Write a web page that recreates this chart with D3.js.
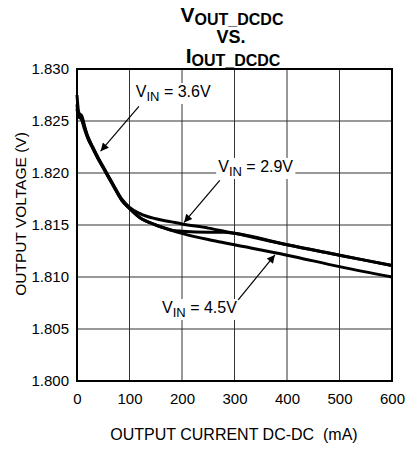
<!DOCTYPE html>
<html>
<head>
<meta charset="utf-8">
<script src="https://cdn.jsdelivr.net/npm/d3@7"></script>
<style>
  body { margin: 0; background: #fff; }
  svg { display: block; font-family: 'Liberation Sans', Arial, sans-serif; }
</style>
</head>
<body>
<svg id="chart" width="406" height="449"></svg>
<script>
'use strict'

// output current (mA) and output voltage (V)
const current = [0, 3, 8, 15, 20, 30, 40, 50, 60, 70, 85, 100, 120, 150, 180, 200, 250, 280, 300, 400, 500, 600]
const vin29 = [1.8275, 1.8259, 1.8254, 1.8243, 1.8236, 1.8225, 1.8215, 1.8206, 1.8197, 1.8188, 1.8175, 1.8167, 1.8161, 1.8156, 1.8153, 1.8151, 1.8147, 1.8144, 1.8142, 1.8131, 1.8121, 1.8111]
const vin36 = [1.8266, 1.8256, 1.8256, 1.8244, 1.8235, 1.8224, 1.8214, 1.8205, 1.8196, 1.8187, 1.8174, 1.8166, 1.8157, 1.8150, 1.8145, 1.8144, 1.8143, 1.8143, 1.8142, 1.8131, 1.8121, 1.8111]
const vin45 = [1.8262, 1.8254, 1.8252, 1.8241, 1.8234, 1.8224, 1.8214, 1.8205, 1.8196, 1.8187, 1.8174, 1.8166, 1.8157, 1.8150, 1.8145, 1.8142, 1.8136, 1.8133, 1.8131, 1.8121, 1.8110, 1.8100]
const xTicks = [0, 100, 200, 300, 400, 500, 600]
const yTicks = [1.800, 1.805, 1.810, 1.815, 1.820, 1.825, 1.830]
const vinLabels = ['3.6V', '2.9V', '4.5V']

const svg = d3.select('#chart')
const plotLeft = 77
const plotRight = 392
const plotTop = 69
const plotBottom = 381

const x = d3.scaleLinear().domain([0, 600]).range([plotLeft, plotRight])
const y = d3.scaleLinear().domain([1.800, 1.830]).range([plotBottom, plotTop])

// grid
const grid = svg.append('g')
grid.selectAll('.vg').data(xTicks).enter().append('line')
  .attr('x1', (d) => x(d)).attr('x2', (d) => x(d))
  .attr('y1', plotTop).attr('y2', plotBottom)
  .attr('stroke', '#333').attr('stroke-width', 1)
grid.selectAll('.hg').data(yTicks).enter().append('line')
  .attr('x1', plotLeft).attr('x2', plotRight)
  .attr('y1', (d) => y(d)).attr('y2', (d) => y(d))
  .attr('stroke', '#333').attr('stroke-width', 1)

// axes (labels only, frame drawn separately)
const xAxis = svg.append('g')
  .attr('transform', `translate(0,${plotBottom})`)
  .call(d3.axisBottom(x).tickValues(xTicks).tickSize(0).tickPadding(12).tickFormat(d3.format('d')))
const yAxis = svg.append('g')
  .attr('transform', `translate(${plotLeft},0)`)
  .call(d3.axisLeft(y).tickValues(yTicks).tickSize(0).tickPadding(8).tickFormat(d3.format('.3f')))
;[xAxis, yAxis].forEach((a) => {
  a.select('.domain').remove()
  a.selectAll('text').attr('font-size', 15).attr('font-family', 'Liberation Sans, Arial, sans-serif').attr('fill', '#000')
})

// annotations: white boxed label + arrow
svg.append('defs').append('marker')
  .attr('id', 'head')
  .attr('viewBox', '0 0 10 10')
  .attr('refX', 10).attr('refY', 5)
  .attr('markerWidth', 10).attr('markerHeight', 8)
  .attr('markerUnits', 'userSpaceOnUse')
  .attr('orient', 'auto')
  .append('path').attr('d', 'M0,0 L10,5 L0,10 z').attr('fill', '#000')

const notes = [
  { text: vinLabels[0], tx: 112, ty: 1.8273, from: [118, 1.8264], to: [45, 1.8221] },
  { text: vinLabels[1], tx: 269, ty: 1.8201, from: [272, 1.8193], to: [204, 1.81525] },
  { text: vinLabels[2], tx: 162, ty: 1.80654, from: [307, 1.80779], to: [377, 1.81212] }
]

const noteG = svg.append('g')
notes.forEach((n) => {
  const g = noteG.append('g')
  const t = g.append('text')
    .attr('x', x(n.tx)).attr('y', y(n.ty))
    .attr('font-size', 16)
    .style('white-space', 'pre')
  t.append('tspan').text('V')
  t.append('tspan').attr('font-size', 13).attr('dy', 4).text('IN')
  t.append('tspan').attr('dy', -4).text(' = ' + n.text)
  const bb = t.node().getBBox()
  g.insert('rect', 'text')
    .attr('x', bb.x - 2).attr('y', bb.y).attr('width', bb.width + 4).attr('height', bb.height)
    .attr('fill', '#fff')
})

// curves
const line = d3.line()
  .x((d) => x(d[0]))
  .y((d) => y(d[1]))
  .curve(d3.curveMonotoneX)

const series = [vin29, vin36, vin45]
svg.append('g').selectAll('path').data(series).enter().append('path')
  .attr('d', (s) => line(current.map((c, i) => [c, s[i]])))
  .attr('fill', 'none')
  .attr('stroke', '#000')
  .attr('stroke-width', 3)
  .attr('stroke-linejoin', 'round')

noteG.selectAll('g').each(function (d, i) {
  const n = notes[i]
  d3.select(this).append('line')
    .attr('x1', x(n.from[0])).attr('y1', y(n.from[1]))
    .attr('x2', x(n.to[0])).attr('y2', y(n.to[1]))
    .attr('stroke', '#000').attr('stroke-width', 1.2)
    .attr('marker-end', 'url(#head)')
})

// frame
svg.append('rect')
  .attr('x', plotLeft).attr('y', plotTop)
  .attr('width', plotRight - plotLeft).attr('height', plotBottom - plotTop)
  .attr('fill', 'none').attr('stroke', '#000').attr('stroke-width', 2)

// title
const title = svg.append('g').attr('font-weight', 'bold').attr('text-anchor', 'middle')
const t1 = title.append('text').attr('x', 232).attr('y', 22).attr('font-size', 21)
t1.append('tspan').text('V')
t1.append('tspan').attr('font-size', 16).attr('dy', 3).text('OUT_DCDC')
title.append('text').attr('x', 231).attr('y', 43).attr('font-size', 18).text('VS.')
const t3 = title.append('text').attr('x', 233).attr('y', 63).attr('font-size', 21)
t3.append('tspan').text('I')
t3.append('tspan').attr('font-size', 16).attr('dy', 3).text('OUT_DCDC')

// axis titles
svg.append('text')
  .attr('transform', 'translate(26,214) rotate(-90)')
  .attr('text-anchor', 'middle')
  .attr('font-size', 15.5)
  .text('OUTPUT VOLTAGE (V)')
svg.append('text')
  .attr('x', 234).attr('y', 440)
  .attr('text-anchor', 'middle')
  .attr('font-size', 16)
  .style('white-space', 'pre')
  .text('OUTPUT CURRENT DC-DC  (mA)')
</script>
</body>
</html>
